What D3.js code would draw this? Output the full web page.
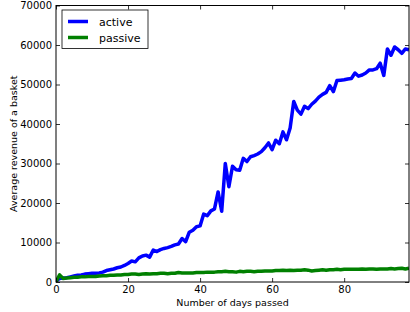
<!DOCTYPE html>
<html>
<head>
<meta charset="utf-8">
<script src="https://cdn.jsdelivr.net/npm/d3@7"></script>
<style>
  body { margin: 0; background: #fff; }
  text { font-family: "DejaVu Sans", sans-serif; fill: #000; }
</style>
</head>
<body>
<svg id="chart" width="410" height="312"></svg>
<script>
// values, one per day (0..98)
var active = [
  200, 900, 1000, 1100, 1300, 1500, 1700, 1800, 2000, 2100,
  2200, 2200, 2300, 2500, 2900, 3100, 3300, 3600, 3800, 4200,
  4700, 5300, 5100, 6100, 6600, 6800, 6300, 8100, 7700, 8200,
  8500, 8700, 9000, 9400, 9600, 11000, 10200, 12600, 13100, 14000,
  14200, 17200, 16800, 18000, 18500, 22800, 17900, 30000, 24100, 29300,
  28400, 28300, 31300, 30500, 31700, 32000, 32400, 33000, 34000, 35200,
  33500, 35900, 35000, 38000, 36000, 39000, 45700, 43500, 42500, 44500,
  43900, 45000, 45800, 46800, 47500, 48000, 49700, 48200, 51000, 51100,
  51200, 51400, 51500, 52900, 52100, 52400, 52900, 53700, 53700, 54000,
  55400, 52300, 59000, 57400, 59500, 58800, 57900, 59000, 58800
];
var passive = [
  100, 1800, 900, 1000, 1100, 1200, 1200, 1300, 1300, 1400,
  1400, 1400, 1500, 1600, 1600, 1700, 1700, 1800, 1800, 1900,
  1900, 2000, 2000, 1900, 2000, 2100, 2000, 2100, 2100, 2200,
  2200, 2100, 2200, 2200, 2400, 2300, 2300, 2300, 2300, 2400,
  2400, 2400, 2500, 2500, 2500, 2600, 2600, 2700, 2600, 2600,
  2500, 2700, 2600, 2700, 2700, 2600, 2700, 2700, 2800, 2800,
  2800, 2900, 2900, 3000, 2900, 3000, 2900, 3000, 3000, 3100,
  3000, 2800, 2900, 3000, 3100, 3000, 3100, 3100, 3200, 3100,
  3200, 3200, 3200, 3200, 3200, 3300, 3200, 3300, 3300, 3200,
  3300, 3300, 3300, 3400, 3300, 3400, 3500, 3300, 3500
];
var seriesNames = ["active", "passive"];
var seriesColors = ["#0000ff", "#008000"];
var xTicks = [0, 20, 40, 60, 80];
var yTicks = [0, 10000, 20000, 30000, 40000, 50000, 60000, 70000];

var margin = {left: 56, right: 1, top: 5.5, bottom: 30};
var width = 410, height = 312;
var svg = d3.select("#chart");

var x = d3.scaleLinear().domain([0, active.length - 1]).range([margin.left, width - margin.right]);
var y = d3.scaleLinear().domain([0, 70000]).range([height - margin.bottom, margin.top]);

var clipId = "plotclip";
svg.append("clipPath").attr("id", clipId)
  .append("rect")
  .attr("x", margin.left).attr("y", margin.top)
  .attr("width", x.range()[1] - margin.left)
  .attr("height", y.range()[0] - margin.top);

var line = d3.line()
  .x(function(d, i) { return x(i); })
  .y(function(d) { return y(d); });

[active, passive].forEach(function(data, k) {
  svg.append("path")
    .datum(data)
    .attr("d", line)
    .attr("fill", "none")
    .attr("stroke", seriesColors[k])
    .attr("stroke-width", 3.5)
    .attr("stroke-linejoin", "round")
    .attr("clip-path", "url(#" + clipId + ")");
});

// axes, matplotlib classic style: ticks inside on all sides
var fmt = d3.format("d");
var xAxis = d3.axisBottom(x).tickValues(xTicks).tickFormat(fmt).tickSizeInner(-4).tickSizeOuter(0).tickPadding(4);
var yAxis = d3.axisLeft(y).tickValues(yTicks).tickFormat(fmt).tickSizeInner(-4).tickSizeOuter(0).tickPadding(4);

var gx = svg.append("g").attr("transform", "translate(0," + y.range()[0] + ")").call(xAxis);
var gy = svg.append("g").attr("transform", "translate(" + margin.left + ",0)").call(yAxis);
var gxTop = svg.append("g").attr("transform", "translate(0," + margin.top + ")")
  .call(d3.axisTop(x).tickValues(xTicks).tickSizeInner(-4).tickSizeOuter(0).tickFormat(""));
var gyRight = svg.append("g").attr("transform", "translate(" + x.range()[1] + ",0)")
  .call(d3.axisRight(y).tickValues(yTicks).tickSizeInner(-4).tickSizeOuter(0).tickFormat(""));

[gx, gy, gxTop, gyRight].forEach(function(g) {
  g.select(".domain").remove();
  g.selectAll(".tick line").attr("stroke", "#000").attr("stroke-width", 0.8);
  g.selectAll("text").style("font-size", "10px").attr("fill", "#000");
});

// frame
svg.append("rect")
  .attr("x", margin.left).attr("y", margin.top)
  .attr("width", x.range()[1] - margin.left)
  .attr("height", y.range()[0] - margin.top)
  .attr("fill", "none").attr("stroke", "#000").attr("stroke-width", 1);

svg.append("text")
  .attr("x", (x.range()[0] + x.range()[1]) / 2)
  .attr("y", 306)
  .attr("text-anchor", "middle")
  .style("font-size", "9.5px")
  .text("Number of days passed");

svg.append("text")
  .attr("transform", "translate(17," + (y.range()[0] + margin.top) / 2 + ") rotate(-90)")
  .attr("text-anchor", "middle")
  .style("font-size", "9.5px")
  .text("Average revenue of a basket");

// legend
var legend = svg.append("g");
legend.append("rect")
  .attr("x", 62).attr("y", 10)
  .attr("width", 86).attr("height", 38.5)
  .attr("fill", "#fff").attr("stroke", "#000").attr("stroke-width", 0.8);
seriesNames.forEach(function(name, k) {
  var ly = 21.5 + k * 16;
  legend.append("line")
    .attr("x1", 68).attr("x2", 88)
    .attr("y1", ly).attr("y2", ly)
    .attr("stroke", seriesColors[k]).attr("stroke-width", 3.5);
  legend.append("text")
    .attr("x", 99).attr("y", ly + 4)
    .style("font-size", "11px")
    .text(name);
});
</script>
</body>
</html>
